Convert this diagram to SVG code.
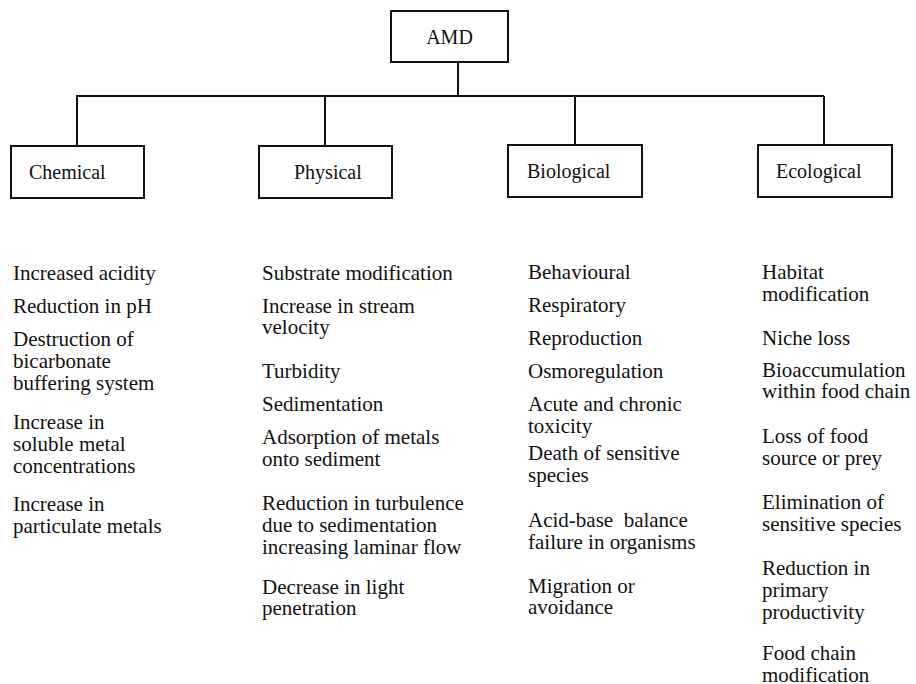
<svg xmlns="http://www.w3.org/2000/svg" width="916" height="684" viewBox="0 0 916 684">
  <style>
    .box { fill: #fff; stroke: #111; stroke-width: 2; }
    .wire { fill: none; stroke: #111; stroke-width: 2; }
    .label { font-family: "Liberation Serif", "Times New Roman", serif; font-size: 20px; fill: #111; }
    .item { font-family: "Liberation Serif", "Times New Roman", serif; font-size: 21px; fill: #111; }
  </style>
  <rect width="916" height="684" fill="#fff"/>

  <!-- tree connectors -->
  <g id="connectors" class="wire">
    <path d="M458 62 V96"/>
    <path d="M76 96 H824"/>
    <path d="M77 96 V146"/>
    <path d="M325 96 V146"/>
    <path d="M575 96 V145"/>
    <path d="M824 96 V145"/>
  </g>

  <g id="amd">
    <rect class="box" x="391" y="11" width="117" height="51"/>
    <text class="label" x="449.5" y="44" text-anchor="middle">AMD</text>
  </g>

  <g id="chemical">
    <rect class="box" x="11" y="146" width="133" height="52"/>
    <text class="label" x="29" y="179">Chemical</text>
  </g>
  <g id="physical">
    <rect class="box" x="259" y="146" width="133" height="52"/>
    <text class="label" x="294" y="179">Physical</text>
  </g>
  <g id="biological">
    <rect class="box" x="508" y="145" width="134" height="52"/>
    <text class="label" x="527" y="178">Biological</text>
  </g>
  <g id="ecological">
    <rect class="box" x="758" y="145" width="134" height="52"/>
    <text class="label" x="776" y="178">Ecological</text>
  </g>

  <!-- effect lists -->
  <g id="chemical-effects" class="item">
    <text x="13" y="280">Increased acidity</text>
    <text x="13" y="313">Reduction in pH</text>
    <text x="13" y="346">Destruction of</text>
    <text x="13" y="368">bicarbonate</text>
    <text x="13" y="390">buffering system</text>
    <text x="13" y="429">Increase in</text>
    <text x="13" y="451">soluble metal</text>
    <text x="13" y="473">concentrations</text>
    <text x="13" y="511">Increase in</text>
    <text x="13" y="533">particulate metals</text>
  </g>

  <g id="physical-effects" class="item">
    <text x="262" y="280">Substrate modification</text>
    <text x="262" y="313">Increase in stream</text>
    <text x="262" y="334">velocity</text>
    <text x="262" y="378">Turbidity</text>
    <text x="262" y="411">Sedimentation</text>
    <text x="262" y="444">Adsorption of metals</text>
    <text x="262" y="466">onto sediment</text>
    <text x="262" y="510">Reduction in turbulence</text>
    <text x="262" y="532">due to sedimentation</text>
    <text x="262" y="554">increasing laminar flow</text>
    <text x="262" y="594">Decrease in light</text>
    <text x="262" y="615">penetration</text>
  </g>

  <g id="biological-effects" class="item">
    <text x="528" y="279">Behavioural</text>
    <text x="528" y="312">Respiratory</text>
    <text x="528" y="345">Reproduction</text>
    <text x="528" y="378">Osmoregulation</text>
    <text x="528" y="411">Acute and chronic</text>
    <text x="528" y="433">toxicity</text>
    <text x="528" y="460">Death of sensitive</text>
    <text x="528" y="482">species</text>
    <text x="528" y="527" xml:space="preserve">Acid-base  balance</text>
    <text x="528" y="549">failure in organisms</text>
    <text x="528" y="593">Migration or</text>
    <text x="528" y="614">avoidance</text>
  </g>

  <g id="ecological-effects" class="item">
    <text x="762" y="279">Habitat</text>
    <text x="762" y="301">modification</text>
    <text x="762" y="345">Niche loss</text>
    <text x="762" y="377">Bioaccumulation</text>
    <text x="762" y="398">within food chain</text>
    <text x="762" y="443">Loss of food</text>
    <text x="762" y="465">source or prey</text>
    <text x="762" y="509">Elimination of</text>
    <text x="762" y="531">sensitive species</text>
    <text x="762" y="575">Reduction in</text>
    <text x="762" y="597">primary</text>
    <text x="762" y="619">productivity</text>
    <text x="762" y="660">Food chain</text>
    <text x="762" y="682">modification</text>
  </g>
</svg>
